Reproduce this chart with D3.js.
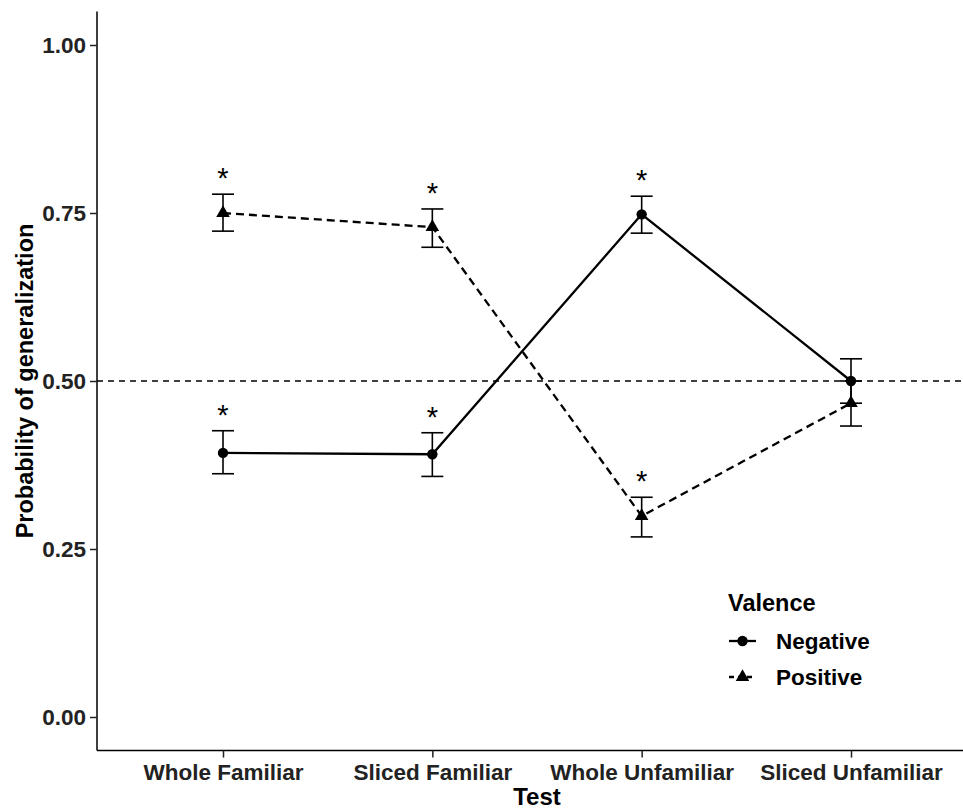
<!DOCTYPE html>
<html>
<head>
<meta charset="utf-8">
<script src="https://cdn.jsdelivr.net/npm/d3@7"></script>
<style>
  body { margin: 0; background: #fff; }
  text { font-family: "Liberation Sans", Arial, sans-serif; font-weight: bold; }
</style>
</head>
<body>
<div id="chart"></div>
<script>
// data
const tests = ["Whole Familiar", "Sliced Familiar", "Whole Unfamiliar", "Sliced Unfamiliar"];
const negMean = [0.393, 0.391, 0.748, 0.500];
const negLow  = [0.362, 0.358, 0.720, 0.467];
const negHigh = [0.426, 0.423, 0.775, 0.533];
const negStar = [true, true, true, false];
const posMean = [0.750, 0.729, 0.299, 0.467];
const posLow  = [0.723, 0.699, 0.268, 0.433];
const posHigh = [0.778, 0.756, 0.327, 0.500];
const posStar = [true, true, true, false];
const yTicks = [0, 0.25, 0.5, 0.75, 1];

var width = 963, height = 812;

var svg = d3.select("#chart").append("svg")
    .attr("width", width)
    .attr("height", height);

// scales
var x = d3.scalePoint().domain(tests).range([223, 851]);
var y = d3.scaleLinear().domain([0, 1]).range([717, 45]);
var panelLeft = 97, panelBottom = y(-0.05), panelTop = y(1.05);

var series = [
  {name: "Negative", mean: negMean, low: negLow, high: negHigh, star: negStar, dash: null, shape: d3.symbolCircle},
  {name: "Positive", mean: posMean, low: posLow, high: posHigh, star: posStar, dash: "8,5", shape: d3.symbolTriangle}
];

// reference line at 0.5
svg.append("line")
   .attr("x1", panelLeft).attr("x2", width)
   .attr("y1", y(0.5)).attr("y2", y(0.5))
   .attr("stroke", "#000")
   .attr("stroke-width", 1.6)
   .attr("stroke-dasharray", "6,5");

var line = d3.line()
   .x(function(d, i) { return x(tests[i]); })
   .y(function(d) { return y(d); });

series.forEach(function(s) {
  svg.append("path")
     .datum(s.mean)
     .attr("d", line)
     .attr("fill", "none")
     .attr("stroke", "#000")
     .attr("stroke-width", 2.3)
     .attr("stroke-dasharray", s.dash);

  // error bars
  var eb = svg.append("g").attr("stroke", "#000").attr("stroke-width", 1.6);
  s.mean.forEach(function(m, i) {
    var cx = x(tests[i]);
    eb.append("line").attr("x1", cx).attr("x2", cx).attr("y1", y(s.low[i])).attr("y2", y(s.high[i]));
    eb.append("line").attr("x1", cx - 11).attr("x2", cx + 11).attr("y1", y(s.low[i])).attr("y2", y(s.low[i]));
    eb.append("line").attr("x1", cx - 11).attr("x2", cx + 11).attr("y1", y(s.high[i])).attr("y2", y(s.high[i]));
  });
});

// points and asterisks
series.forEach(function(s) {
  svg.selectAll(".pt-" + s.name)
     .data(s.mean)
     .enter().append("path")
     .attr("d", d3.symbol().type(s.shape).size(s.shape === d3.symbolCircle ? 85 : 80))
     .attr("transform", function(d, i) { return "translate(" + x(tests[i]) + "," + y(d) + ")"; })
     .attr("fill", "#000");

  svg.selectAll(".star-" + s.name)
     .data(s.mean.map(function(d, i) { return i; }).filter(function(i) { return s.star[i]; }))
     .enter().append("text")
     .attr("x", function(i) { return x(tests[i]); })
     .attr("y", function(i) { return y(s.high[i]) - 6; })
     .attr("text-anchor", "middle")
     .attr("font-size", 29)
     .style("font-weight", "normal")
     .attr("fill", "#000")
     .text("*");
});

// axes
var yAxis = svg.append("g")
   .attr("transform", "translate(" + panelLeft + ",0)")
   .call(d3.axisLeft(y).tickValues(yTicks).tickFormat(d3.format(".2f")).tickSize(7).tickSizeOuter(0));
yAxis.select(".domain").attr("d", "M0," + panelTop + "V" + panelBottom).attr("stroke-width", 1.5);
yAxis.selectAll(".tick line").attr("stroke", "#222").attr("stroke-width", 1.5);
yAxis.selectAll(".tick text").attr("x", -11).attr("font-size", 22.5).attr("fill", "#222")
     .style("font-family", "'Liberation Sans', Arial, sans-serif");

var xAxis = svg.append("g")
   .attr("transform", "translate(0," + panelBottom + ")")
   .call(d3.axisBottom(x).tickSize(7).tickSizeOuter(0));
xAxis.select(".domain").attr("d", "M" + panelLeft + ",0H" + width).attr("stroke-width", 1.5);
xAxis.selectAll(".tick line").attr("stroke", "#222").attr("stroke-width", 1.5);
xAxis.selectAll(".tick text").attr("y", 13).attr("font-size", 22.5).attr("fill", "#222")
     .style("font-family", "'Liberation Sans', Arial, sans-serif");

// axis titles
svg.append("text")
   .attr("x", 537).attr("y", 805)
   .attr("text-anchor", "middle")
   .attr("font-size", 24)
   .text("Test");

svg.append("text")
   .attr("transform", "translate(33," + ((panelTop + panelBottom) / 2) + ") rotate(-90)")
   .attr("text-anchor", "middle")
   .attr("font-size", 23.5)
   .text("Probability of generalization");

// legend
var legend = svg.append("g");
legend.append("text").attr("x", 728).attr("y", 611).attr("font-size", 23.5).text("Valence");
series.forEach(function(s, i) {
  var ly = 641 + i * 36;
  legend.append("line")
     .attr("x1", 729).attr("x2", 756).attr("y1", ly).attr("y2", ly)
     .attr("stroke", "#000").attr("stroke-width", 2.3)
     .attr("stroke-dasharray", s.dash ? "5,4" : null);
  legend.append("path")
     .attr("d", d3.symbol().type(s.shape).size(s.shape === d3.symbolCircle ? 85 : 80))
     .attr("transform", "translate(742.5," + ly + ")")
     .attr("fill", "#000");
  legend.append("text")
     .attr("x", 776).attr("y", ly + 8)
     .attr("font-size", 22.5)
     .text(s.name);
});
</script>
</body>
</html>
